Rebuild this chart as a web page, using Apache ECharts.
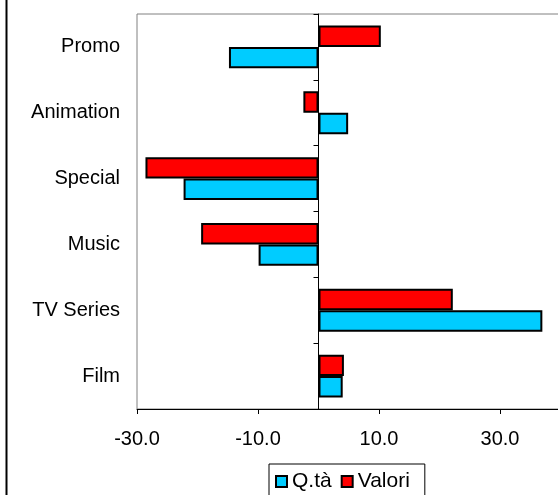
<!DOCTYPE html>
<html>
<head>
<meta charset="utf-8">
<script src="https://cdn.jsdelivr.net/npm/echarts@6/dist/echarts.min.js"></script>
<style>
  html, body { margin: 0; padding: 0; background: #fff; overflow: hidden; }
  #chart { width: 558px; height: 495px; }
</style>
</head>
<body>
<div id="chart"></div>
<script>
// Categories, bottom to top
const categories = ['Film', 'TV Series', 'Music', 'Special', 'Animation', 'Promo'];
// Percentage changes per category
const qtaValues = [4.0, 37.0, -9.9, -22.3, 4.9, -14.8];
const valoriValues = [4.2, 22.2, -19.4, -28.6, -2.5, 10.3];
const legendNames = ['Q.tà', 'Valori'];

const FONT = 'Liberation Sans, Arial, sans-serif';
const chart = echarts.init(document.getElementById('chart'), null, { renderer: 'canvas' });

chart.setOption({
  animation: false,
  backgroundColor: '#ffffff',
  grid: {
    // the value axis runs on past the right edge of the canvas
    left: 137, top: 14, right: -63, bottom: 86,
    outerBoundsMode: 'none', containLabel: false,
    show: true, borderColor: '#808080', borderWidth: 1, backgroundColor: '#ffffff'
  },
  legend: {
    left: 269, top: 464,
    data: legendNames,
    icon: 'rect',
    itemWidth: 11, itemHeight: 11, itemGap: 9,
    padding: [7, 15, 16, 6],
    borderColor: '#000', borderWidth: 1,
    itemStyle: { borderColor: '#000', borderWidth: 2 },
    textStyle: { fontFamily: FONT, fontSize: 21, color: '#000' }
  },
  xAxis: {
    type: 'value',
    min: -30, max: 50, interval: 20,
    splitLine: { show: false },
    axisLine: { show: true, onZero: false, lineStyle: { color: '#000', width: 1 } },
    axisTick: { show: true, length: 5, lineStyle: { color: '#000' } },
    axisLabel: {
      fontFamily: FONT, fontSize: 20, color: '#000', margin: 20,
      formatter: v => v.toFixed(1)
    }
  },
  yAxis: [
    {
      type: 'category',
      data: categories,
      axisLine: { show: false, onZero: false },
      axisTick: { show: false },
      axisLabel: { fontFamily: FONT, fontSize: 20, color: '#000', margin: 17 }
    },
    {
      type: 'category',
      data: categories,
      position: 'left',
      axisLine: { show: true, onZero: true, lineStyle: { color: '#000', width: 1 } },
      axisTick: { show: true, length: 5, lineStyle: { color: '#000' } },
      axisLabel: { show: false }
    }
  ],
  graphic: [
    { type: 'line', shape: { x1: 6.5, y1: 0, x2: 6.5, y2: 495 }, style: { stroke: '#000', lineWidth: 2 } }
  ],
  series: [
    {
      name: 'Valori', type: 'bar', data: valoriValues,
      barGap: '0%', barCategoryGap: '35%',
      itemStyle: { color: '#ff0000', borderColor: '#000', borderWidth: 2 }
    },
    {
      name: 'Q.tà', type: 'bar', data: qtaValues,
      barGap: '0%', barCategoryGap: '35%',
      itemStyle: { color: '#00ccff', borderColor: '#000', borderWidth: 2 }
    }
  ]
});
</script>
</body>
</html>
